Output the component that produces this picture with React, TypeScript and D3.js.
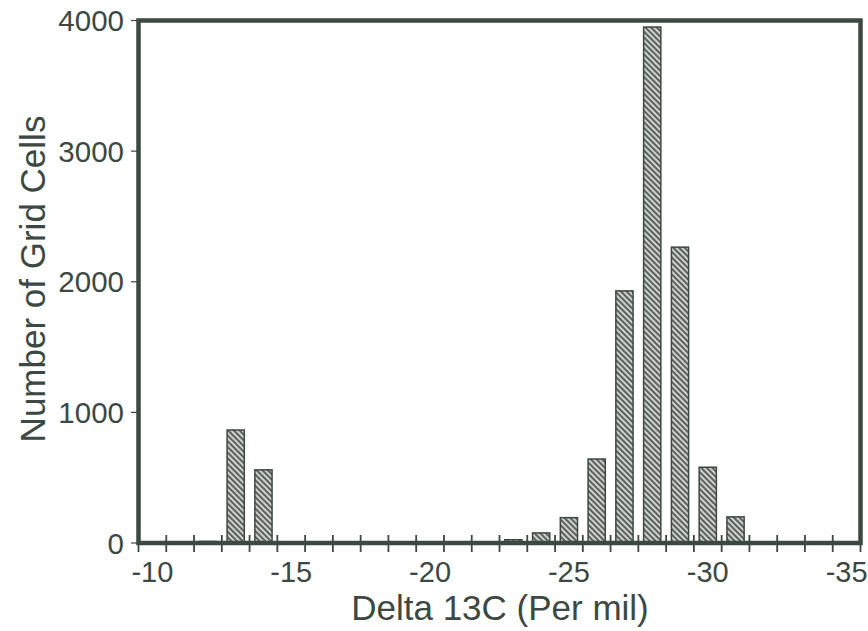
import React from "react";
import * as d3 from "d3";

// Histogram bins of delta 13C (per mil), one per whole unit from -10 to -35
const bins: number[] = [
  -10, -11, -12, -13, -14, -15, -16, -17, -18, -19, -20, -21, -22,
  -23, -24, -25, -26, -27, -28, -29, -30, -31, -32, -33, -34, -35,
];
// Number of grid cells in each bin
const counts: number[] = [
  8, 8, 12, 865, 560, 5, 0, 0, 0, 0, 0, 8, 0,
  25, 77, 194, 643, 1930, 3950, 2265, 580, 200, 0, 0, 0, 0,
];
const xTickLabels: number[] = [-10, -15, -20, -25, -30, -35];
const yTicks: number[] = [0, 1000, 2000, 3000, 4000];

const W = 868;
const H = 631;
const ink = "#3c4842";
const font = "'Liberation Sans', Arial, Helvetica, sans-serif";

export default function App() {
  const left = 138.5;
  const right = 860.5;
  const top = 20.5;
  const bottom = 543;

  const x = d3
    .scaleBand<number>()
    .domain(bins)
    .range([left, right])
    .paddingInner(0.38)
    .paddingOuter(0.19);
  const step = x.step();
  const y = d3.scaleLinear().domain([0, 4000]).range([bottom, top]);

  const boundaries = d3.range(bins.length + 1).map((i) => left + i * step);
  const center = (b: number) => (x(b) as number) + x.bandwidth() / 2;

  return (
    <svg
      width={W}
      height={H}
      style={{ position: "absolute", left: 0, top: 0, background: "#fff" }}
    >
      <defs>
        <pattern
          id="hatch"
          patternUnits="userSpaceOnUse"
          width={4}
          height={4}
          patternTransform="rotate(-45)"
        >
          <rect width={4} height={4} fill="#cfd1cf" />
          <rect width={1.9} height={4} fill="#555b57" />
        </pattern>
      </defs>

      {/* bars */}
      {bins.map((b, i) =>
        counts[i] > 0 ? (
          <rect
            key={b}
            x={x(b)}
            y={y(counts[i])}
            width={x.bandwidth()}
            height={bottom - y(counts[i])}
            fill="url(#hatch)"
            stroke={ink}
            strokeWidth={1.5}
          />
        ) : null
      )}

      {/* x ticks at bin boundaries */}
      {boundaries.map((bx, i) => (
        <line
          key={i}
          x1={bx}
          x2={bx}
          y1={535}
          y2={552}
          stroke={ink}
          strokeWidth={1.8}
        />
      ))}

      {/* y ticks */}
      {yTicks.map((t) => (
        <line
          key={t}
          x1={131}
          x2={left}
          y1={y(t)}
          y2={y(t)}
          stroke={ink}
          strokeWidth={1.2}
        />
      ))}

      {/* frame */}
      <rect
        x={left}
        y={top}
        width={right - left}
        height={bottom - top}
        fill="none"
        stroke={ink}
        strokeWidth={4.5}
      />

      {/* y tick labels */}
      {yTicks.map((t) => (
        <text
          key={t}
          x={124}
          y={y(t)}
          dy="0.36em"
          textAnchor="end"
          fontFamily={font}
          fontSize={29.5}
          fill={ink}
        >
          {t}
        </text>
      ))}

      {/* x tick labels at bin centres */}
      {xTickLabels.map((v) => (
        <text
          key={v}
          x={center(v)}
          y={582}
          textAnchor="middle"
          fontFamily={font}
          fontSize={29}
          fill={ink}
        >
          {v}
        </text>
      ))}

      {/* axis titles */}
      <text
        x={500}
        y={620}
        textAnchor="middle"
        fontFamily={font}
        fontSize={35}
        fill={ink}
      >
        Delta 13C (Per mil)
      </text>
      <text
        transform={`translate(45, 279) rotate(-90)`}
        textAnchor="middle"
        fontFamily={font}
        fontSize={35}
        fill={ink}
      >
        Number of Grid Cells
      </text>
    </svg>
  );
}
